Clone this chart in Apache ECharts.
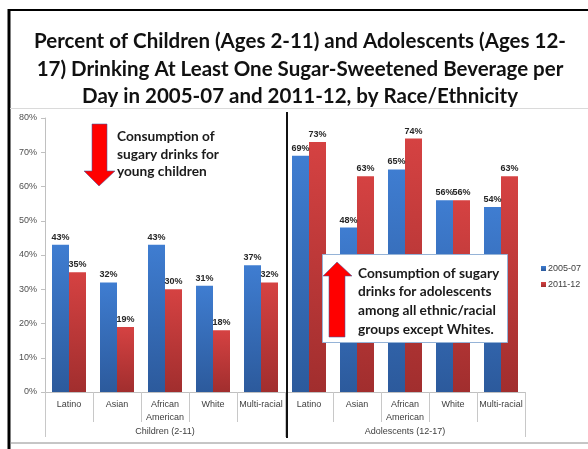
<!DOCTYPE html>
<html>
<head>
<meta charset="utf-8">
<script src="https://cdn.jsdelivr.net/npm/echarts@6/dist/echarts.min.js"></script>
<style>
  html, body { margin: 0; padding: 0; background: #fff; }
  #chart { width: 588px; height: 449px; }
</style>
</head>
<body>
<div id="chart"></div>
<script>
// Race/ethnicity categories, repeated for each age group
const categories = ['Latino', 'Asian', 'African\nAmerican', 'White', 'Multi-racial',
                    'Latino', 'Asian', 'African\nAmerican', 'White', 'Multi-racial'];
const groups = ['Children (2-11)', 'Adolescents (12-17)'];
const seriesNames = ['2005-07', '2011-12'];
// Percent drinking at least one sugar-sweetened beverage per day
const values0507 = [43, 32, 43, 31, 37, 69, 48, 65, 56, 54];
const values1112 = [35, 19, 30, 18, 32, 73, 63, 74, 56, 63];
const yTicks = [0, 10, 20, 30, 40, 50, 60, 70, 80];

const titleLines = [
  'Percent of Children (Ages 2-11) and Adolescents (Ages 12-',
  '17) Drinking At Least One Sugar-Sweetened Beverage per',
  'Day in 2005-07 and 2011-12, by Race/Ethnicity'
];
const noteChildren = 'Consumption of\nsugary drinks for\nyoung children';
const noteTeens = 'Consumption of sugary\ndrinks for adolescents\namong all ethnic/racial\ngroups except Whites.';

const chart = echarts.init(document.getElementById('chart'), null, { renderer: 'canvas' });

const blueFill = new echarts.graphic.LinearGradient(0, 0, 0, 1, [
  { offset: 0, color: '#3f7dd1' }, { offset: 1, color: '#2c5a9c' }
]);
const redFill = new echarts.graphic.LinearGradient(0, 0, 0, 1, [
  { offset: 0, color: '#d54242' }, { offset: 1, color: '#a12e2e' }
]);

const labelStyle = {
  show: true,
  position: 'top',
  distance: 3,
  formatter: '{c}%',
  fontFamily: 'Liberation Sans, Arial, sans-serif',
  fontSize: 9,
  fontWeight: 'bold',
  color: '#262626'
};

const noteFont = 'Lato, "Open Sans", sans-serif';
const arrowStroke = 'rgba(70,90,160,0.7)';

chart.setOption({
  animation: false,
  backgroundColor: '#ffffff',
  textStyle: { fontFamily: 'Liberation Sans, Arial, sans-serif' },
  grid: { left: 45, right: 63, top: 118, bottom: 57, containLabel: false },
  legend: {
    orient: 'vertical',
    left: 536,
    top: 259,
    itemWidth: 5,
    itemHeight: 5,
    itemGap: 7,
    icon: 'rect',
    data: seriesNames,
    textStyle: { fontSize: 9, color: '#404040', padding: [0, 0, 0, -3] }
  },
  xAxis: [
    {
      type: 'category',
      data: categories,
      position: 'bottom',
      axisLine: { show: true, lineStyle: { color: '#c0c0c0', width: 1 } },
      axisTick: { show: true, length: 30, interval: 0, lineStyle: { color: '#c8c8c8' } },
      axisLabel: { interval: 0, margin: 6, fontSize: 9, lineHeight: 13, color: '#404040' }
    },
    {
      type: 'category',
      data: groups,
      position: 'bottom',
      offset: 30,
      axisLine: { show: false },
      axisTick: { show: true, length: 15, interval: 0, lineStyle: { color: '#c8c8c8' } },
      axisLabel: { interval: 0, margin: 5, fontSize: 9, color: '#404040' }
    }
  ],
  yAxis: {
    type: 'value',
    min: yTicks[0],
    max: yTicks[yTicks.length - 1],
    interval: yTicks[1] - yTicks[0],
    axisLine: { show: true, lineStyle: { color: '#c0c0c0' } },
    axisTick: { show: true, length: 4, lineStyle: { color: '#c0c0c0' } },
    splitLine: { show: false },
    axisLabel: { margin: 8, fontSize: 9, color: '#505050', formatter: '{value}%' }
  },
  series: [
    {
      name: seriesNames[0],
      type: 'bar',
      xAxisIndex: 0,
      data: values0507,
      barWidth: 17,
      barGap: '0%',
      itemStyle: { color: blueFill },
      label: labelStyle
    },
    {
      name: seriesNames[1],
      type: 'bar',
      xAxisIndex: 0,
      data: values1112,
      barWidth: 17,
      barGap: '0%',
      itemStyle: { color: redFill },
      label: labelStyle
    }
  ],
  graphic: [
    // outer frame: black top and left edges, grey bottom edge
    { type: 'line', z: 50, shape: { x1: 8, y1: 10, x2: 588, y2: 10 }, style: { stroke: '#000', lineWidth: 2 } },
    { type: 'line', z: 50, shape: { x1: 9, y1: 9, x2: 9, y2: 449 }, style: { stroke: '#000', lineWidth: 3 } },
    { type: 'line', z: 50, shape: { x1: 10, y1: 443, x2: 588, y2: 443 }, style: { stroke: '#8c8c8c', lineWidth: 1 } },
    // faint rule under the heading
    { type: 'line', z: 50, shape: { x1: 10, y1: 108.5, x2: 588, y2: 108.5 }, style: { stroke: '#dadada', lineWidth: 1 } },
    // heading
    {
      type: 'text', z: 50, x: 300, y: 28,
      style: {
        text: titleLines.join('\n'),
        font: 'bold 20.5px Lato, "Open Sans", sans-serif',
        lineHeight: 27.5,
        align: 'center',
        verticalAlign: 'top',
        fill: '#111'
      }
    },
    // divider between the two age groups
    { type: 'line', z: 60, shape: { x1: 287, y1: 112, x2: 287, y2: 438 }, style: { stroke: '#111', lineWidth: 2 } },
    // down arrow for young children
    {
      type: 'polygon', z: 60,
      shape: { points: [[92, 124], [107, 124], [107, 171], [115, 171], [99, 186], [84, 171], [92, 171]] },
      style: { fill: '#ff0000', stroke: arrowStroke, lineWidth: 0.8 }
    },
    {
      type: 'text', z: 60, x: 117, y: 128,
      style: { text: noteChildren, font: 'bold 13.7px ' + noteFont, lineHeight: 17.5, fill: '#1a1a1a' }
    },
    // adolescent call-out box with up arrow
    {
      type: 'rect', z: 60,
      shape: { x: 322.5, y: 254.5, width: 185, height: 88 },
      style: { fill: '#ffffff', stroke: '#95b3d7', lineWidth: 1 }
    },
    {
      type: 'polygon', z: 61,
      shape: { points: [[337, 262], [352, 276], [345, 276], [345, 337], [329, 337], [329, 276], [323, 276]] },
      style: { fill: '#ff0000', stroke: arrowStroke, lineWidth: 0.8 }
    },
    {
      type: 'text', z: 61, x: 358, y: 264,
      style: { text: noteTeens, font: 'bold 13.7px ' + noteFont, lineHeight: 18.7, fill: '#1a1a1a' }
    }
  ]
});
</script>
</body>
</html>
